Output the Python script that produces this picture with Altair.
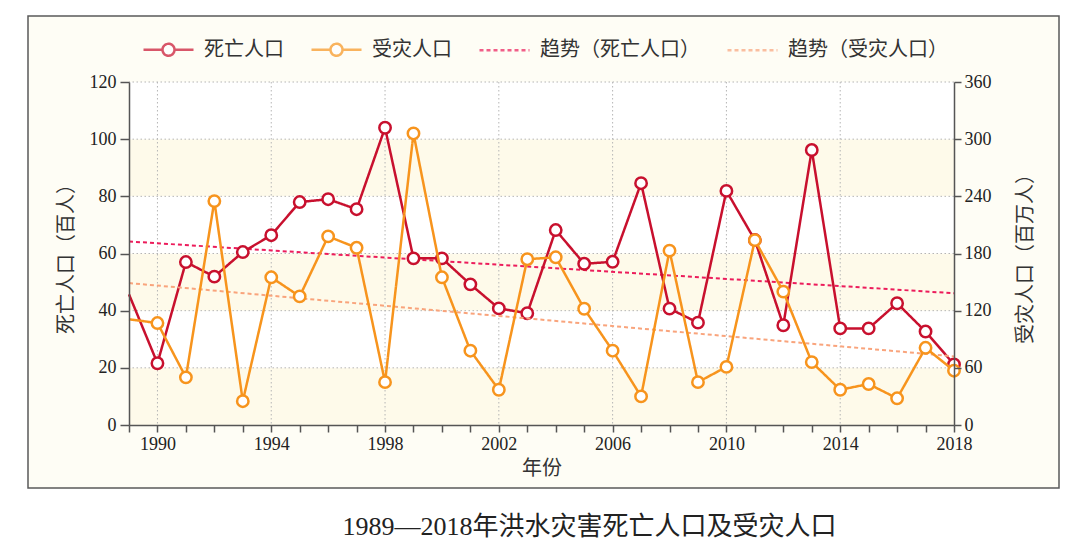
import altair as alt
import pandas as pd

# ---------------- data ----------------
YEARS = [1989, 1990, 1991, 1992, 1993, 1994, 1995, 1996, 1997, 1998,
         1999, 2000, 2001, 2002, 2003, 2004, 2005, 2006, 2007, 2008,
         2009, 2010, 2011, 2012, 2013, 2014, 2015, 2016, 2017, 2018]
DEATH = [45.7, 21.6, 57.0, 51.9, 60.5, 66.4, 78.0, 79.0, 75.5, 104.0,
         58.3, 58.3, 49.2, 40.8, 39.1, 68.2, 56.4, 57.1, 84.6, 40.7,
         35.8, 81.9, 64.7, 34.9, 96.2, 33.8, 33.8, 42.6, 32.7, 21.2]
AFFECTED = [111, 107, 50, 235, 25, 155, 135, 198, 186, 45,
            306, 155, 78, 37, 174, 176, 122, 78, 30, 183,
            45, 61, 194, 140, 66, 37, 43, 28, 81, 57]
TREND_YEARS = [1989, 2018]
TREND_DEATH = [64.2, 46.1]
TREND_AFFECTED = [149, 72]

SERIES = ["死亡人口", "受灾人口", "趋势（死亡人口）", "趋势（受灾人口）"]
COLORS = ["#c8102e", "#f7941d", "#ec1c5b", "#f9a47c"]

Y_LEFT_TICKS = [0, 20, 40, 60, 80, 100, 120]
Y_RIGHT_TICKS = [0, 60, 120, 180, 240, 300, 360]
X_GRID = [1990, 1994, 1998, 2002, 2006, 2010, 2014]
TINTED_BANDS = [(0, 20), (40, 60), (80, 100)]
PLAIN_BANDS = [(20, 40), (60, 80), (100, 120)]

TITLE = "1989—2018年洪水灾害死亡人口及受灾人口"
X_TITLE = "年份"
YL_TITLE = "死亡人口（百人）"
YR_TITLE = "受灾人口（百万人）"

# ---------------- tables ----------------
death_df = pd.DataFrame({"year": YEARS, "v": DEATH, "series": SERIES[0]})
aff_df = pd.DataFrame({"year": YEARS, "v": AFFECTED, "series": SERIES[1]})
tdeath_df = pd.DataFrame({"year": TREND_YEARS, "v": TREND_DEATH, "series": SERIES[2]})
taff_df = pd.DataFrame({"year": TREND_YEARS, "v": TREND_AFFECTED, "series": SERIES[3]})
tint_df = pd.DataFrame({"lo": [b[0] for b in TINTED_BANDS], "hi": [b[1] for b in TINTED_BANDS],
                        "x0": YEARS[0], "x1": YEARS[-1]})
plain_df = pd.DataFrame({"lo": [b[0] for b in PLAIN_BANDS], "hi": [b[1] for b in PLAIN_BANDS],
                         "x0": YEARS[0], "x1": YEARS[-1]})
hgrid_df = pd.DataFrame({"v": Y_LEFT_TICKS[1:]})
vgrid_df = pd.DataFrame({"year": X_GRID})

# ---------------- styling ----------------
W, H = 825, 343
FONT = "Liberation Serif, Noto Sans CJK SC, sans-serif"
AXIS_COLOR = "#555555"
LEGEND_PATH = ("M-1,0L-0.24,0M0.24,0L1,0M0.24,0"
               "A0.24,0.24,0,1,1,-0.24,0A0.24,0.24,0,1,1,0.24,0Z")

xscale = alt.Scale(domain=[YEARS[0], YEARS[-1]], nice=False, zero=False)
ylscale = alt.Scale(domain=[0, 120], nice=False)
yrscale = alt.Scale(domain=[0, 360], nice=False)

x_axis = alt.Axis(values=YEARS, format="d", title=X_TITLE,
                  labelExpr="(datum.value - 1990) % 4 == 0 ? datum.label : ''",
                  labelOverlap=False, labelFlush=False, tickSize=7,
                  labelPadding=3, titlePadding=5, grid=False, zindex=1)
yl_axis = alt.Axis(values=Y_LEFT_TICKS, title=YL_TITLE, tickSize=9, labelPadding=4,
                   titlePadding=13, grid=False, orient="left", zindex=1)
yr_axis = alt.Axis(values=Y_RIGHT_TICKS, title=YR_TITLE, tickSize=7, labelPadding=3,
                   titlePadding=44, titleAngle=270, grid=False, orient="right", zindex=1)

color_scale = alt.Scale(domain=SERIES, range=COLORS)
shape_scale = alt.Scale(domain=SERIES, range=[LEGEND_PATH, LEGEND_PATH, "stroke", "stroke"])
dash_scale = alt.Scale(domain=SERIES, range=[[1, 0], [1, 0], [4, 3], [4, 3]])
LEG = alt.Legend(orient="none", legendX=13, legendY=-59, direction="horizontal",
                 columns=4, title=None)

color_enc = alt.Color("series:N", scale=color_scale, legend=LEG)
dash_enc = alt.StrokeDash("series:N", scale=dash_scale, legend=LEG)
shape_enc = alt.Shape("series:N", scale=shape_scale, legend=LEG)

x_enc = alt.X("year:Q", scale=xscale, axis=x_axis)

# ---------------- left group ----------------
frame = alt.Chart(alt.Data(values=[{}])).mark_rect(
    fill="#fefdf5", stroke="#5a5a5a", strokeWidth=1.5
).encode(x=alt.value(-101), x2=alt.value(W + 105), y=alt.value(-66), y2=alt.value(H + 63))

tint = alt.Chart(tint_df).mark_rect(fill="#fefaea").encode(
    x=alt.X("x0:Q", scale=xscale, axis=x_axis), x2="x1:Q",
    y=alt.Y("lo:Q", scale=ylscale, axis=yl_axis), y2="hi:Q")
plain = alt.Chart(plain_df).mark_rect(fill="#ffffff").encode(
    x=alt.X("x0:Q", scale=xscale, axis=x_axis), x2="x1:Q",
    y=alt.Y("lo:Q", scale=ylscale, axis=yl_axis), y2="hi:Q")

hgrid = alt.Chart(hgrid_df).mark_rule(color="#b5b5b5", strokeDash=[1.5, 2.5], strokeWidth=1).encode(
    y=alt.Y("v:Q", scale=ylscale, axis=yl_axis))
vgrid = alt.Chart(vgrid_df).mark_rule(color="#b5b5b5", strokeDash=[1.5, 2.5], strokeWidth=1).encode(
    x=x_enc)

legend_layer = alt.Chart(alt.Data(values=[])).mark_point(
    filled=False, fill="white", strokeWidth=2.5
).encode(color=color_enc, shape=shape_enc)

death_line = alt.Chart(death_df).mark_line(strokeWidth=2.5).encode(
    x=x_enc, y=alt.Y("v:Q", scale=ylscale, axis=yl_axis), color=color_enc, strokeDash=dash_enc)
death_trend = alt.Chart(tdeath_df).mark_line(strokeWidth=2).encode(
    x=x_enc, y=alt.Y("v:Q", scale=ylscale, axis=yl_axis), color=color_enc, strokeDash=dash_enc)
death_pts = alt.Chart(death_df).transform_filter("datum.year >= 1990").mark_point(
    shape="circle", filled=False, fill="white", size=130, strokeWidth=2.5, opacity=1
).encode(x=x_enc, y=alt.Y("v:Q", scale=ylscale, axis=yl_axis),
         color=alt.Color("series:N", scale=color_scale, legend=None))

left = alt.layer(frame, tint, plain, hgrid, vgrid, legend_layer, death_trend, death_line, death_pts)

# ---------------- right group ----------------
aff_trend = alt.Chart(taff_df).mark_line(strokeWidth=2).encode(
    x=x_enc, y=alt.Y("v:Q", scale=yrscale, axis=yr_axis), color=color_enc, strokeDash=dash_enc)
aff_line = alt.Chart(aff_df).mark_line(strokeWidth=2.5).encode(
    x=x_enc, y=alt.Y("v:Q", scale=yrscale, axis=yr_axis), color=color_enc, strokeDash=dash_enc)
aff_pts = alt.Chart(aff_df).transform_filter("datum.year >= 1990").mark_point(
    shape="circle", filled=False, fill="white", size=130, strokeWidth=2.5, opacity=1
).encode(x=x_enc, y=alt.Y("v:Q", scale=yrscale, axis=yr_axis),
         color=alt.Color("series:N", scale=color_scale, legend=None))

right = alt.layer(aff_trend, aff_line, aff_pts)

chart = alt.layer(left, right).resolve_scale(y="independent").properties(
    width=W, height=H,
    padding={"left": 19, "top": 7, "right": 5, "bottom": 5},
    background="white",
    title=alt.TitleParams(TITLE, orient="bottom", anchor="middle", font=FONT, fontSize=26,
                          fontWeight="normal", color="#222222", offset=25, dx=48),
).configure_view(strokeWidth=0).configure_axis(
    domainColor=AXIS_COLOR, tickColor=AXIS_COLOR, domainWidth=1.5, tickWidth=1.5,
    labelFont=FONT, titleFont=FONT, labelFontSize=18, titleFontSize=20,
    labelColor="#222222", titleColor="#333333", titleFontWeight="normal",
).configure_legend(
    labelFont=FONT, labelFontSize=20, labelColor="#333333", symbolSize=2500,
    symbolStrokeWidth=2.5, columnPadding=22, labelOffset=9, labelLimit=400, padding=0,
)

chart.save("out.html", embed_options={"renderer": "svg", "actions": False})
